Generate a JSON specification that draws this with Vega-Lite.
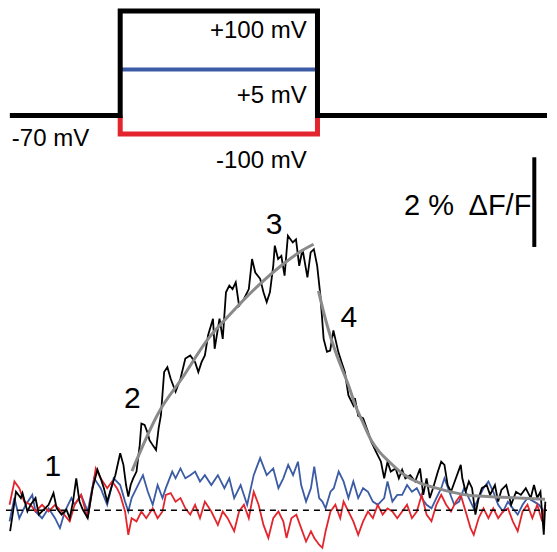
{
  "$schema": "https://vega.github.io/schema/vega-lite/v6.json",
  "width": 557,
  "height": 552,
  "autosize": {"type": "fit", "contains": "padding"},
  "padding": 0,
  "background": "white",
  "config": {"view": {"stroke": null}, "text": {"font": "Liberation Sans", "color": "black"}},
  "datasets": {
    "protocol": [
      {"step": "-100 mV", "i": 0, "t": 0, "mv": -70},
      {"step": "-100 mV", "i": 1, "t": 0, "mv": -100},
      {"step": "-100 mV", "i": 2, "t": 202, "mv": -100},
      {"step": "-100 mV", "i": 3, "t": 202, "mv": -70},
      {"step": "+5 mV", "i": 0, "t": 0, "mv": 5},
      {"step": "+5 mV", "i": 1, "t": 202, "mv": 5},
      {"step": "+100 mV", "i": 0, "t": -113, "mv": -70},
      {"step": "+100 mV", "i": 1, "t": 0, "mv": -70},
      {"step": "+100 mV", "i": 2, "t": 0, "mv": 100},
      {"step": "+100 mV", "i": 3, "t": 202, "mv": 100},
      {"step": "+100 mV", "i": 4, "t": 202, "mv": -70},
      {"step": "+100 mV", "i": 5, "t": 437, "mv": -70}
    ],
    "protocolLabelsRight": [
      {"label": "+100 mV", "t": 191, "mv": 67.0},
      {"label": "+5 mV", "t": 191, "mv": -38.3},
      {"label": "-100 mV", "t": 191, "mv": -143.5}
    ],
    "protocolLabelsLeft": [
      {"label": "-70 mV", "t": -111, "mv": -107.9}
    ],
    "phaseLabels": [
      {"label": "1", "t": -69, "v": 0.96},
      {"label": "2", "t": 12.5, "v": 2.48},
      {"label": "3", "t": 157.5, "v": 6.37},
      {"label": "4", "t": 234, "v": 4.28}
    ],
    "scaleBar": [
      {"t": 424, "v": 5.87, "v2": 7.87, "label": "2 %\u2002\u0394F/F", "tl": 421, "vl": 6.78}
    ],
    "baseline": [
      {"t": -117, "v": 0},
      {"t": 437, "v": 0}
    ],
    "black": [
      {"t": -112.7, "v": -0.47}, {"t": -106.7, "v": 0.41}, {"t": -101.7, "v": 0.27}, {"t": -100, "v": 0.38},
      {"t": -95, "v": -0.03}, {"t": -91.7, "v": 0.12}, {"t": -86.7, "v": 0.27}, {"t": -83.3, "v": -0.1},
      {"t": -78.3, "v": 0.01}, {"t": -73.3, "v": 0.12}, {"t": -68.3, "v": 0.38}, {"t": -65, "v": 0.04},
      {"t": -60, "v": -0.1}, {"t": -55, "v": 0.01}, {"t": -51.7, "v": -0.18}, {"t": -48.3, "v": 0.19},
      {"t": -45, "v": 0.71}, {"t": -41.7, "v": 0.19}, {"t": -38.3, "v": 0.01}, {"t": -33.3, "v": -0.18},
      {"t": -28.3, "v": 0.49}, {"t": -23.3, "v": 0.9}, {"t": -20, "v": 0.71}, {"t": -16.7, "v": 0.49},
      {"t": -13.3, "v": 0.19}, {"t": -8.3, "v": 0.56}, {"t": -5, "v": 0.78}, {"t": 0, "v": 1.27},
      {"t": 3.3, "v": 1.01}, {"t": 6, "v": 0.56}, {"t": 8.3, "v": 0.3}, {"t": 10.7, "v": 0.56},
      {"t": 13.3, "v": 0.71}, {"t": 16.7, "v": 0.86}, {"t": 20, "v": 1.45}, {"t": 21.7, "v": 1.93},
      {"t": 25, "v": 1.9}, {"t": 28.3, "v": 1.71}, {"t": 30, "v": 1.56}, {"t": 33.3, "v": 1.45},
      {"t": 36.7, "v": 1.34}, {"t": 39.3, "v": 1.82}, {"t": 41.7, "v": 2.12}, {"t": 45, "v": 3.08},
      {"t": 48.3, "v": 3.19}, {"t": 51.7, "v": 2.93}, {"t": 56.7, "v": 2.64}, {"t": 61.7, "v": 2.93},
      {"t": 66.7, "v": 3.38}, {"t": 71.7, "v": 3.45}, {"t": 76.7, "v": 3.3}, {"t": 80, "v": 3.08},
      {"t": 83.3, "v": 3.3}, {"t": 86.7, "v": 3.45}, {"t": 90, "v": 3.9}, {"t": 95, "v": 4.27},
      {"t": 96.7, "v": 3.6}, {"t": 101.7, "v": 4.27}, {"t": 105, "v": 3.82}, {"t": 108.3, "v": 4.86},
      {"t": 111.7, "v": 5.01}, {"t": 115, "v": 4.93}, {"t": 118.3, "v": 5.08}, {"t": 121.7, "v": 4.56},
      {"t": 126.7, "v": 4.71}, {"t": 131.7, "v": 4.93}, {"t": 135, "v": 5.6}, {"t": 138.3, "v": 5.3},
      {"t": 143.3, "v": 5.16}, {"t": 146.7, "v": 4.86}, {"t": 150, "v": 4.64}, {"t": 153.3, "v": 4.86},
      {"t": 156.7, "v": 5.45}, {"t": 158.3, "v": 5.9}, {"t": 161.7, "v": 5.6}, {"t": 165, "v": 5.67},
      {"t": 168.3, "v": 5.23}, {"t": 171.7, "v": 6.12}, {"t": 176.7, "v": 5.97}, {"t": 180, "v": 6.04},
      {"t": 183.3, "v": 5.45}, {"t": 186.7, "v": 5.82}, {"t": 191.7, "v": 5.19}, {"t": 195, "v": 5.75},
      {"t": 198.3, "v": 5.82}, {"t": 201.7, "v": 5.45}, {"t": 205, "v": 4.78}, {"t": 208.3, "v": 3.82},
      {"t": 211.7, "v": 3.53}, {"t": 215, "v": 3.56}, {"t": 218.3, "v": 4.01}, {"t": 223.3, "v": 3.53},
      {"t": 226.7, "v": 3.3}, {"t": 230, "v": 3.08}, {"t": 233.7, "v": 2.56}, {"t": 238.7, "v": 2.34},
      {"t": 240.3, "v": 2.5}, {"t": 243.7, "v": 2.1}, {"t": 248.7, "v": 2.05}, {"t": 253.7, "v": 1.75},
      {"t": 257, "v": 1.53}, {"t": 262, "v": 1.3}, {"t": 267, "v": 1.08}, {"t": 270.3, "v": 0.71},
      {"t": 273.7, "v": 1.08}, {"t": 277, "v": 0.86}, {"t": 282, "v": 0.93}, {"t": 285.3, "v": 0.71},
      {"t": 288.7, "v": 0.9}, {"t": 292, "v": 0.71}, {"t": 297, "v": 0.78}, {"t": 302, "v": 0.64},
      {"t": 307, "v": 0.93}, {"t": 310.3, "v": 0.34}, {"t": 313.7, "v": 0.71}, {"t": 317, "v": 0.27},
      {"t": 320.3, "v": 0.49}, {"t": 325.3, "v": 0.86}, {"t": 328.7, "v": 1.08}, {"t": 332, "v": 1.01},
      {"t": 335.3, "v": 0.56}, {"t": 338.7, "v": 0.41}, {"t": 343.7, "v": 0.71}, {"t": 348.7, "v": 1.01},
      {"t": 350.3, "v": 0.71}, {"t": 353.7, "v": 0.41}, {"t": 357, "v": 0.64}, {"t": 360.3, "v": 0.49},
      {"t": 363.7, "v": -0.1}, {"t": 367, "v": 0.27}, {"t": 370.3, "v": 0.49}, {"t": 375.3, "v": 0.56},
      {"t": 378.7, "v": 0.34}, {"t": 383.7, "v": 0.56}, {"t": 387, "v": 0.19}, {"t": 390.3, "v": 0.45},
      {"t": 395.3, "v": 0.56}, {"t": 400.3, "v": 0.12}, {"t": 405.3, "v": 0.41}, {"t": 410.3, "v": 0.34},
      {"t": 415.3, "v": 0.49}, {"t": 420.3, "v": 0.27}, {"t": 423.7, "v": 0.56}, {"t": 427, "v": 0.27},
      {"t": 430.3, "v": 0.41}, {"t": 433.7, "v": -0.55}, {"t": 435.3, "v": 0.19}
    ],
    "blue": [
      {"t": -113.3, "v": -0.25}, {"t": -108.3, "v": 0.27}, {"t": -103.3, "v": -0.18}, {"t": -96.7, "v": 0.12},
      {"t": -90, "v": 0.34}, {"t": -86.7, "v": -0.03}, {"t": -80, "v": -0.18}, {"t": -73.3, "v": 0.04},
      {"t": -66.7, "v": -0.18}, {"t": -61.7, "v": -0.4}, {"t": -56.7, "v": -0.03}, {"t": -50, "v": 0.27},
      {"t": -46.7, "v": 0.12}, {"t": -40, "v": 0.34}, {"t": -33.3, "v": -0.03}, {"t": -26.7, "v": 0.71},
      {"t": -20, "v": 0.49}, {"t": -13.3, "v": 0.12}, {"t": -6.7, "v": 0.71}, {"t": 0, "v": 0.56},
      {"t": 5, "v": 0.19}, {"t": 8.3, "v": -0.03}, {"t": 11.7, "v": 0.27}, {"t": 16.7, "v": 0.49},
      {"t": 23.3, "v": 0.78}, {"t": 28.3, "v": 0.41}, {"t": 33.3, "v": 0.12}, {"t": 38.3, "v": 0.56},
      {"t": 43.3, "v": 0.27}, {"t": 46.7, "v": 0.49}, {"t": 53.3, "v": 0.86}, {"t": 56.7, "v": 0.71},
      {"t": 61.7, "v": 0.93}, {"t": 66.7, "v": 0.71}, {"t": 71.7, "v": 0.78}, {"t": 76.7, "v": 0.86},
      {"t": 81.7, "v": 0.64}, {"t": 86.7, "v": 0.78}, {"t": 93.3, "v": 0.56}, {"t": 100, "v": 0.78},
      {"t": 106.7, "v": 0.49}, {"t": 111.7, "v": 0.71}, {"t": 116.7, "v": 0.27}, {"t": 123.3, "v": 0.56},
      {"t": 130, "v": 0.12}, {"t": 136.7, "v": 0.78}, {"t": 143.3, "v": 1.16}, {"t": 150, "v": 0.78},
      {"t": 156.7, "v": 0.93}, {"t": 162, "v": 0.49}, {"t": 167, "v": 0.71}, {"t": 172, "v": 1.01},
      {"t": 177, "v": 0.78}, {"t": 182, "v": 1.08}, {"t": 185.3, "v": 0.56}, {"t": 190.3, "v": 0.19},
      {"t": 195.3, "v": 0.49}, {"t": 198.7, "v": 0.97}, {"t": 203.7, "v": 0.27}, {"t": 207, "v": 0.19},
      {"t": 210.3, "v": 0.04}, {"t": 215.3, "v": 0.41}, {"t": 218.7, "v": 0.49}, {"t": 223.7, "v": 0.86},
      {"t": 228.7, "v": 0.64}, {"t": 233.7, "v": 0.27}, {"t": 238.7, "v": 0.64}, {"t": 243.7, "v": 0.27},
      {"t": 248.7, "v": 0.49}, {"t": 253.7, "v": 0.41}, {"t": 258.7, "v": 0.19}, {"t": 263.7, "v": 0.12},
      {"t": 270.3, "v": 0.27}, {"t": 273.7, "v": 0.64}, {"t": 278.7, "v": 0.19}, {"t": 283.7, "v": 0.34},
      {"t": 288.7, "v": 0.34}, {"t": 293.7, "v": 0.56}, {"t": 298.7, "v": 0.41}, {"t": 303.7, "v": 0.49},
      {"t": 308.7, "v": 0.27}, {"t": 313.7, "v": 0.12}, {"t": 318.7, "v": 0.04}, {"t": 323.7, "v": 0.27},
      {"t": 328.7, "v": 0.49}, {"t": 332, "v": 0.71}, {"t": 337, "v": 0.41}, {"t": 342, "v": 0.12},
      {"t": 347, "v": 0.19}, {"t": 352, "v": 0.49}, {"t": 357, "v": 0.27}, {"t": 362, "v": 0.04},
      {"t": 367, "v": 0.27}, {"t": 372, "v": 0.49}, {"t": 377, "v": 0.64}, {"t": 382, "v": 0.41},
      {"t": 387, "v": 0.12}, {"t": 392, "v": -0.03}, {"t": 397, "v": 0.19}, {"t": 402, "v": 0.04},
      {"t": 407, "v": -0.1}, {"t": 412, "v": 0.12}, {"t": 417, "v": 0.27}, {"t": 423.7, "v": 0.19},
      {"t": 428.7, "v": 0.12}, {"t": 433.7, "v": -0.03}
    ],
    "red": [
      {"t": -113.3, "v": 0.12}, {"t": -108.3, "v": 0.64}, {"t": -103.3, "v": 0.49}, {"t": -98.3, "v": 0.19},
      {"t": -91.7, "v": 0.12}, {"t": -86.7, "v": -0.03}, {"t": -80, "v": 0.12}, {"t": -73.3, "v": -0.03},
      {"t": -66.7, "v": 0.12}, {"t": -60, "v": -0.03}, {"t": -51.7, "v": -0.25}, {"t": -46.7, "v": 0.12},
      {"t": -40, "v": 0.34}, {"t": -33.3, "v": -0.18}, {"t": -25, "v": 0.93}, {"t": -20, "v": 0.71},
      {"t": -13.3, "v": 0.49}, {"t": -8.3, "v": 0.64}, {"t": -3.3, "v": 0.49}, {"t": 0, "v": 0.34},
      {"t": 5, "v": -0.03}, {"t": 8.3, "v": -0.55}, {"t": 11.7, "v": -0.18}, {"t": 16.7, "v": -0.25},
      {"t": 21.7, "v": -0.03}, {"t": 26.7, "v": -0.18}, {"t": 33.3, "v": 0.04}, {"t": 38.3, "v": -0.18},
      {"t": 43.3, "v": -0.03}, {"t": 46.7, "v": 0.34}, {"t": 51.7, "v": 0.38}, {"t": 56.7, "v": 0.19},
      {"t": 61.7, "v": 0.27}, {"t": 66.7, "v": 0.04}, {"t": 71.7, "v": -0.1}, {"t": 76.7, "v": 0.12},
      {"t": 81.7, "v": -0.18}, {"t": 86.7, "v": 0.19}, {"t": 93.3, "v": -0.03}, {"t": 100, "v": -0.33},
      {"t": 105, "v": -0.03}, {"t": 110, "v": -0.18}, {"t": 116.7, "v": -0.47}, {"t": 121.7, "v": -0.03},
      {"t": 126.7, "v": 0.12}, {"t": 131.7, "v": -0.18}, {"t": 136.7, "v": 0.41}, {"t": 141.7, "v": 0.12},
      {"t": 146.7, "v": -0.33}, {"t": 151.7, "v": -0.62}, {"t": 156.7, "v": -0.18}, {"t": 162, "v": -0.03},
      {"t": 167, "v": -0.25}, {"t": 170.3, "v": -0.62}, {"t": 175.3, "v": -0.18}, {"t": 180.3, "v": -0.1},
      {"t": 185.3, "v": -0.4}, {"t": 190.3, "v": -0.7}, {"t": 195.3, "v": -0.47}, {"t": 198.7, "v": -0.62},
      {"t": 203.7, "v": -0.77}, {"t": 207, "v": -0.84}, {"t": 210.3, "v": -0.47}, {"t": 215.3, "v": -0.03},
      {"t": 220.3, "v": 0.12}, {"t": 225.3, "v": -0.18}, {"t": 228.7, "v": 0.19}, {"t": 233.7, "v": -0.03},
      {"t": 238.7, "v": -0.25}, {"t": 243.7, "v": -0.55}, {"t": 248.7, "v": -0.25}, {"t": 253.7, "v": -0.03},
      {"t": 258.7, "v": -0.18}, {"t": 263.7, "v": 0.12}, {"t": 268.7, "v": -0.1}, {"t": 273.7, "v": 0.04},
      {"t": 278.7, "v": -0.03}, {"t": 283.7, "v": -0.18}, {"t": 288.7, "v": -0.03}, {"t": 293.7, "v": 0.12},
      {"t": 298.7, "v": -0.18}, {"t": 303.7, "v": -0.03}, {"t": 308.7, "v": 0.34}, {"t": 313.7, "v": -0.1},
      {"t": 318.7, "v": -0.25}, {"t": 323.7, "v": 0.12}, {"t": 328.7, "v": 0.34}, {"t": 333.7, "v": 0.12},
      {"t": 338.7, "v": -0.03}, {"t": 343.7, "v": 0.19}, {"t": 348.7, "v": 0.34}, {"t": 353.7, "v": -0.03},
      {"t": 358.7, "v": -0.4}, {"t": 362, "v": -0.55}, {"t": 367, "v": -0.18}, {"t": 372, "v": 0.04},
      {"t": 377, "v": -0.18}, {"t": 382, "v": 0.04}, {"t": 387, "v": -0.18}, {"t": 392, "v": -0.03},
      {"t": 397, "v": 0.04}, {"t": 402, "v": -0.25}, {"t": 407, "v": -0.47}, {"t": 412, "v": -0.03},
      {"t": 417, "v": 0.12}, {"t": 422, "v": -0.18}, {"t": 427, "v": 0.12}, {"t": 432, "v": -0.25},
      {"t": 435.3, "v": 0.12}
    ],
    "fit": [
      {"phase": "rise", "t": 12, "v": 0.87}, {"phase": "rise", "t": 40, "v": 2.2},
      {"phase": "rise", "t": 63, "v": 2.93}, {"phase": "rise", "t": 90, "v": 3.82},
      {"phase": "rise", "t": 113, "v": 4.38}, {"phase": "rise", "t": 140, "v": 4.98},
      {"phase": "rise", "t": 167, "v": 5.49}, {"phase": "rise", "t": 187, "v": 5.8},
      {"phase": "rise", "t": 198, "v": 5.93},
      {"phase": "decay", "t": 203, "v": 4.89}, {"phase": "decay", "t": 208, "v": 4.44},
      {"phase": "decay", "t": 213, "v": 4.04}, {"phase": "decay", "t": 220, "v": 3.56},
      {"phase": "decay", "t": 227, "v": 3.16}, {"phase": "decay", "t": 235, "v": 2.71},
      {"phase": "decay", "t": 240, "v": 2.38}, {"phase": "decay", "t": 248, "v": 1.98},
      {"phase": "decay", "t": 257, "v": 1.56}, {"phase": "decay", "t": 265, "v": 1.31},
      {"phase": "decay", "t": 274, "v": 1.11}, {"phase": "decay", "t": 290, "v": 0.8},
      {"phase": "decay", "t": 307, "v": 0.6}, {"phase": "decay", "t": 324, "v": 0.49},
      {"phase": "decay", "t": 340, "v": 0.4}, {"phase": "decay", "t": 357, "v": 0.33},
      {"phase": "decay", "t": 390, "v": 0.29}, {"phase": "decay", "t": 435, "v": 0.24}
    ]
  },
  "resolve": {"scale": {"y": "independent"}},
  "layer": [
    {
      "data": {"name": "protocol"},
      "transform": [{"filter": "datum.step == '-100 mV'"}],
      "mark": {"type": "line", "color": "#e3262d", "strokeWidth": 5, "strokeJoin": "miter"},
      "encoding": {
        "x": {"field": "t", "type": "quantitative", "scale": {"domain": [-120, 437], "nice": false, "zero": false}, "axis": null},
        "y": {"field": "mv", "type": "quantitative", "scale": {"domain": [-776, 117.8], "nice": false, "zero": false}, "axis": null},
        "order": {"field": "i", "type": "quantitative"}
      }
    },
    {
      "data": {"name": "protocol"},
      "transform": [{"filter": "datum.step == '+5 mV'"}],
      "mark": {"type": "line", "color": "#3b5ba5", "strokeWidth": 4},
      "encoding": {
        "x": {"field": "t", "type": "quantitative", "scale": {"domain": [-120, 437], "nice": false, "zero": false}, "axis": null},
        "y": {"field": "mv", "type": "quantitative", "scale": {"domain": [-776, 117.8], "nice": false, "zero": false}, "axis": null},
        "order": {"field": "i", "type": "quantitative"}
      }
    },
    {
      "data": {"name": "protocol"},
      "transform": [{"filter": "datum.step == '+100 mV'"}],
      "mark": {"type": "line", "color": "black", "strokeWidth": 5, "strokeJoin": "miter"},
      "encoding": {
        "x": {"field": "t", "type": "quantitative", "scale": {"domain": [-120, 437], "nice": false, "zero": false}, "axis": null},
        "y": {"field": "mv", "type": "quantitative", "scale": {"domain": [-776, 117.8], "nice": false, "zero": false}, "axis": null},
        "order": {"field": "i", "type": "quantitative"}
      }
    },
    {
      "data": {"name": "protocolLabelsRight"},
      "mark": {"type": "text", "align": "right", "baseline": "middle", "fontSize": 24},
      "encoding": {
        "x": {"field": "t", "type": "quantitative", "scale": {"domain": [-120, 437], "nice": false, "zero": false}, "axis": null},
        "y": {"field": "mv", "type": "quantitative", "scale": {"domain": [-776, 117.8], "nice": false, "zero": false}, "axis": null},
        "text": {"field": "label"}
      }
    },
    {
      "data": {"name": "protocolLabelsLeft"},
      "mark": {"type": "text", "align": "left", "baseline": "middle", "fontSize": 24},
      "encoding": {
        "x": {"field": "t", "type": "quantitative", "scale": {"domain": [-120, 437], "nice": false, "zero": false}, "axis": null},
        "y": {"field": "mv", "type": "quantitative", "scale": {"domain": [-776, 117.8], "nice": false, "zero": false}, "axis": null},
        "text": {"field": "label"}
      }
    },
    {
      "data": {"name": "blue"},
      "mark": {"type": "line", "color": "#3b5ba5", "strokeWidth": 1.8},
      "encoding": {
        "x": {"field": "t", "type": "quantitative", "scale": {"domain": [-120, 437], "nice": false, "zero": false}, "axis": null},
        "y": {"field": "v", "type": "quantitative", "scale": {"domain": [-0.889, 11.378], "nice": false, "zero": false}, "axis": null}
      }
    },
    {
      "data": {"name": "red"},
      "mark": {"type": "line", "color": "#e3262d", "strokeWidth": 1.8},
      "encoding": {
        "x": {"field": "t", "type": "quantitative", "scale": {"domain": [-120, 437], "nice": false, "zero": false}, "axis": null},
        "y": {"field": "v", "type": "quantitative", "scale": {"domain": [-0.889, 11.378], "nice": false, "zero": false}, "axis": null}
      }
    },
    {
      "data": {"name": "baseline"},
      "mark": {"type": "line", "color": "black", "strokeWidth": 1.5, "strokeDash": [6, 5]},
      "encoding": {
        "x": {"field": "t", "type": "quantitative", "scale": {"domain": [-120, 437], "nice": false, "zero": false}, "axis": null},
        "y": {"field": "v", "type": "quantitative", "scale": {"domain": [-0.889, 11.378], "nice": false, "zero": false}, "axis": null}
      }
    },
    {
      "data": {"name": "black"},
      "mark": {"type": "line", "color": "black", "strokeWidth": 1.8},
      "encoding": {
        "x": {"field": "t", "type": "quantitative", "scale": {"domain": [-120, 437], "nice": false, "zero": false}, "axis": null},
        "y": {"field": "v", "type": "quantitative", "scale": {"domain": [-0.889, 11.378], "nice": false, "zero": false}, "axis": null}
      }
    },
    {
      "data": {"name": "fit"},
      "mark": {"type": "line", "color": "#8a8a8a", "strokeWidth": 3, "interpolate": "monotone"},
      "encoding": {
        "x": {"field": "t", "type": "quantitative", "scale": {"domain": [-120, 437], "nice": false, "zero": false}, "axis": null},
        "y": {"field": "v", "type": "quantitative", "scale": {"domain": [-0.889, 11.378], "nice": false, "zero": false}, "axis": null},
        "detail": {"field": "phase"}
      }
    },
    {
      "data": {"name": "phaseLabels"},
      "mark": {"type": "text", "align": "center", "baseline": "middle", "fontSize": 30},
      "encoding": {
        "x": {"field": "t", "type": "quantitative", "scale": {"domain": [-120, 437], "nice": false, "zero": false}, "axis": null},
        "y": {"field": "v", "type": "quantitative", "scale": {"domain": [-0.889, 11.378], "nice": false, "zero": false}, "axis": null},
        "text": {"field": "label"}
      }
    },
    {
      "data": {"name": "scaleBar"},
      "mark": {"type": "rule", "color": "black", "strokeWidth": 4},
      "encoding": {
        "x": {"field": "t", "type": "quantitative", "scale": {"domain": [-120, 437], "nice": false, "zero": false}, "axis": null},
        "y": {"field": "v", "type": "quantitative", "scale": {"domain": [-0.889, 11.378], "nice": false, "zero": false}, "axis": null},
        "y2": {"field": "v2"}
      }
    },
    {
      "data": {"name": "scaleBar"},
      "mark": {"type": "text", "align": "right", "baseline": "middle", "fontSize": 29},
      "encoding": {
        "x": {"field": "tl", "type": "quantitative", "scale": {"domain": [-120, 437], "nice": false, "zero": false}, "axis": null},
        "y": {"field": "vl", "type": "quantitative", "scale": {"domain": [-0.889, 11.378], "nice": false, "zero": false}, "axis": null},
        "text": {"field": "label"}
      }
    }
  ]
}
